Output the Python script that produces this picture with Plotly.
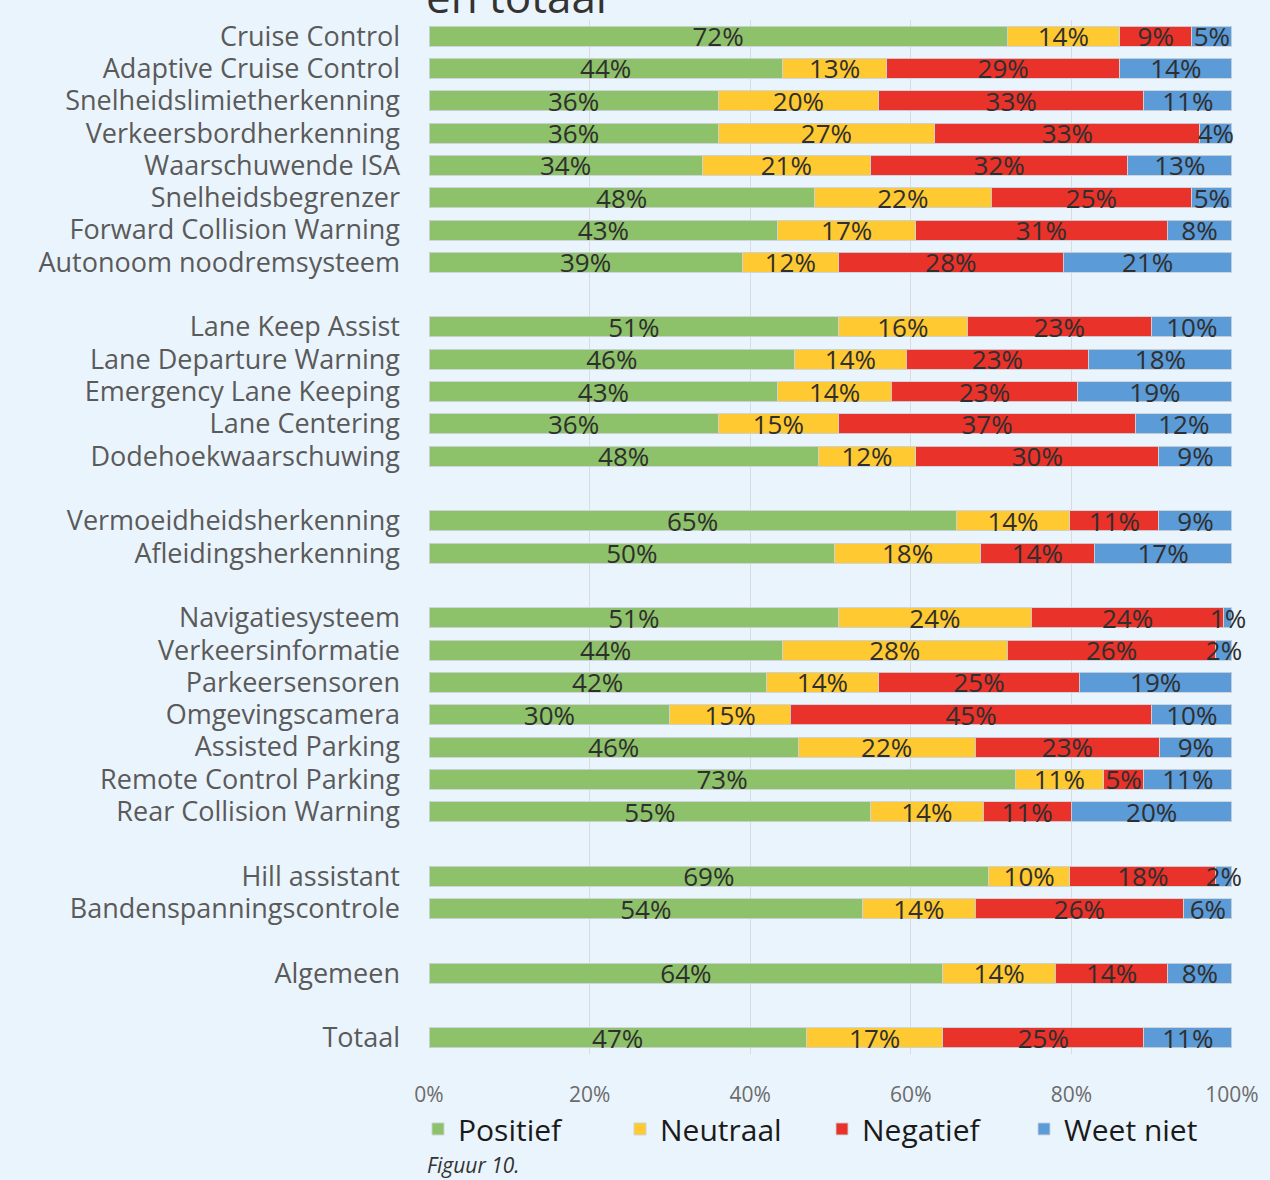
import plotly.graph_objects as go

groups = [
    ["Cruise Control", "Adaptive Cruise Control", "Snelheidslimietherkenning",
     "Verkeersbordherkenning", "Waarschuwende ISA", "Snelheidsbegrenzer",
     "Forward Collision Warning", "Autonoom noodremsysteem"],
    ["Lane Keep Assist", "Lane Departure Warning", "Emergency Lane Keeping",
     "Lane Centering", "Dodehoekwaarschuwing"],
    ["Vermoeidheidsherkenning", "Afleidingsherkenning"],
    ["Navigatiesysteem", "Verkeersinformatie", "Parkeersensoren", "Omgevingscamera",
     "Assisted Parking", "Remote Control Parking", "Rear Collision Warning"],
    ["Hill assistant", "Bandenspanningscontrole"],
    ["Algemeen"],
    ["Totaal"],
]

positief = [72, 44, 36, 36, 34, 48, 43, 39,
            51, 46, 43, 36, 48,
            65, 50,
            51, 44, 42, 30, 46, 73, 55,
            69, 54,
            64,
            47]
neutraal = [14, 13, 20, 27, 21, 22, 17, 12,
            16, 14, 14, 15, 12,
            14, 18,
            24, 28, 14, 15, 22, 11, 14,
            10, 14,
            14,
            17]
negatief = [9, 29, 33, 33, 32, 25, 31, 28,
            23, 23, 23, 37, 30,
            11, 14,
            24, 26, 25, 45, 23, 5, 11,
            18, 26,
            14,
            25]
weet_niet = [5, 14, 11, 4, 13, 5, 8, 21,
             10, 18, 19, 12, 9,
             9, 17,
             1, 2, 19, 10, 9, 11, 20,
             2, 6,
             8,
             11]

series = [("Positief", positief, "#8DC26A"),
          ("Neutraal", neutraal, "#FFC931"),
          ("Negatief", negatief, "#E8322A"),
          ("Weet niet", weet_niet, "#5B9BD8")]

# slot positions: one empty slot between groups
labels, pos = [], []
slot = 0
for g in groups:
    for name in g:
        labels.append(name)
        pos.append(slot)
        slot += 1
    slot += 1
last = max(pos)

BG = "#EAF4FC"
FONT = "Open Sans"

fig = go.Figure()
for name, vals, col in series:
    fig.add_trace(go.Bar(
        name=name, y=pos, x=vals, orientation="h",
        marker=dict(color=col, line=dict(color="rgba(205,210,215,0.9)", width=1)),
        width=0.62,
        text=vals, texttemplate="%{text}%",
        textposition="inside", insidetextanchor="middle", textangle=0,
        insidetextfont=dict(family=FONT, size=26, color="#2f2f2f"),
        constraintext="none", cliponaxis=False,
        hoverinfo="skip",
    ))

fig.update_layout(
    barmode="stack", barnorm="percent",
    width=1270, height=1180,
    paper_bgcolor=BG, plot_bgcolor=BG,
    margin=dict(l=429, r=38, t=20, b=126, autoexpand=False),
    font=dict(family=FONT, color="#595959"),
    uniformtext=dict(minsize=26, mode="show"),
    showlegend=True,
    legend=dict(orientation="h", x=-0.0137, xanchor="left", y=-0.0725, yanchor="middle",
                font=dict(family=FONT, size=30, color="#1a1a1a"),
                entrywidth=157, entrywidthmode="pixels",
                bgcolor="rgba(0,0,0,0)", traceorder="normal"),
)
fig.update_xaxes(range=[0, 100.001], tickvals=[0, 20, 40, 60, 80, 100],
                 ticktext=["0%", "20%", "40%", "60%", "80%", "100%"],
                 showgrid=True, gridcolor="#D9DCDF", gridwidth=1,
                 zeroline=False, showline=False, automargin=False,
                 tickfont=dict(family=FONT, size=21, color="#6b6b6b"),
                 ticklabelstandoff=26, fixedrange=True)
fig.update_yaxes(range=[last + 0.5, -0.5], tickvals=pos, ticktext=labels,
                 showgrid=False, zeroline=False, showline=False, automargin=False,
                 tickfont=dict(family=FONT, size=27, color="#5a5a5a"),
                 ticklabelstandoff=28, fixedrange=True)

fig.add_annotation(text="en totaal", xref="paper", yref="paper", x=-0.006, y=0.992,
                   xanchor="left", yanchor="bottom", showarrow=False,
                   font=dict(family=FONT, size=44, color="#333333"))
fig.add_annotation(text="<i>Figuur 10.</i>", xref="paper", yref="paper", x=-0.005, y=-0.107,
                   xanchor="left", yanchor="middle", showarrow=False,
                   font=dict(family=FONT, size=21, color="#333333"))

fig.write_html("out.html", config={"displayModeBar": False},
               post_script="document.body.style.margin='0';document.body.style.overflow='hidden';")
